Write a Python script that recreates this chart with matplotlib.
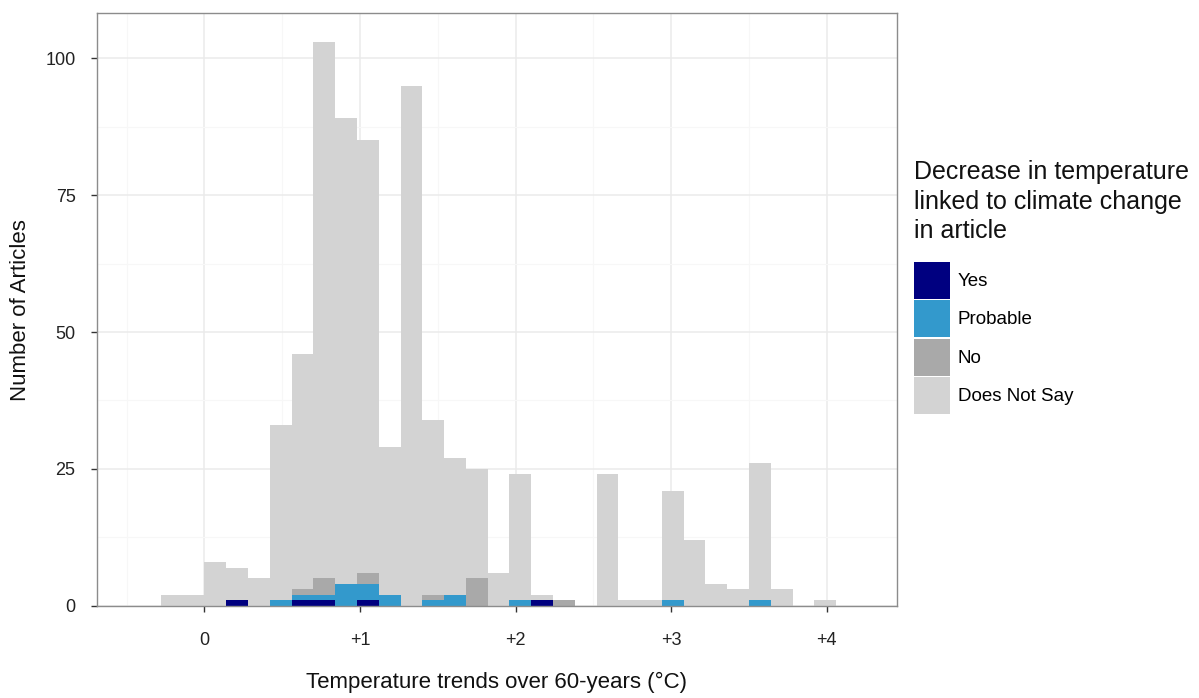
import numpy as np
import matplotlib.pyplot as plt
from matplotlib.patches import Patch
from matplotlib.ticker import MultipleLocator

plt.rcParams['font.family'] = ['Liberation Sans', 'DejaVu Sans']

# Histogram bins (width 0.14 degC, first bin starts at -0.28)
bin_width = 0.14
bin_lefts = -0.28 + bin_width * np.arange(31)

# Counts per bin
total = [2, 2, 8, 7, 5, 33, 46, 103, 89, 85, 29, 95, 34, 27, 25, 6,
         24, 2, 1, 0, 24, 1, 1, 21, 12, 4, 3, 26, 3, 0, 1]
yes = [0, 0, 0, 1, 0, 0, 1, 1, 0, 1, 0, 0, 0, 0, 0, 0,
       0, 1, 0, 0, 0, 0, 0, 0, 0, 0, 0, 0, 0, 0, 0]
probable = [0, 0, 0, 0, 0, 1, 1, 1, 4, 3, 2, 0, 1, 2, 0, 0,
            1, 0, 0, 0, 0, 0, 0, 1, 0, 0, 0, 1, 0, 0, 0]
no = [0, 0, 0, 0, 0, 0, 1, 3, 0, 2, 0, 0, 1, 0, 5, 0,
      0, 0, 1, 0, 0, 0, 0, 0, 0, 0, 0, 0, 0, 0, 0]

categories = ['Yes', 'Probable', 'No', 'Does Not Say']
colors = ['#000080', '#3399cc', '#a9a9a9', '#d3d3d3']
x_ticks = [0, 1, 2, 3, 4]
x_labels = ['0', '+1', '+2', '+3', '+4']
y_ticks = [0, 25, 50, 75, 100]

total = np.array(total)
yes = np.array(yes)
probable = np.array(probable)
no = np.array(no)
not_say = total - yes - probable - no

fig = plt.figure(figsize=(11.99, 6.98), dpi=100)
ax = fig.add_axes([0.081, 0.132, 0.667, 0.849])

# stacked histogram, bottom to top
bottom = np.zeros(len(total))
for vals, col in zip([yes, probable, no, not_say], colors):
    ax.bar(bin_lefts, vals, width=bin_width, bottom=bottom, align='edge',
           color=col, linewidth=0, zorder=2)
    bottom = bottom + vals

ax.set_xlim(-0.69, 4.45)
ax.set_ylim(0, 108.2)
ax.set_xticks(x_ticks)
ax.set_xticklabels(x_labels)
ax.set_yticks(y_ticks)
ax.xaxis.set_minor_locator(MultipleLocator(0.5))
ax.yaxis.set_minor_locator(MultipleLocator(12.5))

ax.grid(True, which='major', color='#ebebeb', linewidth=1.1, zorder=0)
ax.grid(True, which='minor', color='#f7f7f7', linewidth=0.8, zorder=0)
ax.set_axisbelow(True)

for s in ax.spines.values():
    s.set_color('#8c8c8c')
    s.set_linewidth(1.0)

ax.tick_params(axis='both', which='major', length=4.5, width=1.0,
               color='#333333', labelsize=13, labelcolor='#222222')
ax.tick_params(axis='x', which='major', pad=14)
ax.tick_params(axis='y', which='major', pad=11)
ax.tick_params(which='minor', length=0)

ax.set_xlabel('Temperature trends over 60-years (°C)', fontsize=16,
              labelpad=17, color='#111111')
ax.set_ylabel('Number of Articles', fontsize=16, labelpad=10, color='#111111')

# legend title and keys
fig.text(914 / 1199, 1 - 160 / 698,
         'Decrease in temperature\nlinked to climate change\nin article',
         ha='left', va='top', fontsize=18, linespacing=1.3, color='#111111')

handles = [Patch(facecolor=c, edgecolor='none') for c in colors]
leg = fig.legend(handles, categories,
                 loc='upper left', bbox_to_anchor=(914 / 1199, 1 - 262 / 698),
                 frameon=False, fontsize=13.5,
                 handlelength=1.92, handleheight=2.65, handletextpad=0.4,
                 labelspacing=0.08, borderaxespad=0, borderpad=0)

fig.savefig('out.png', dpi=100)
